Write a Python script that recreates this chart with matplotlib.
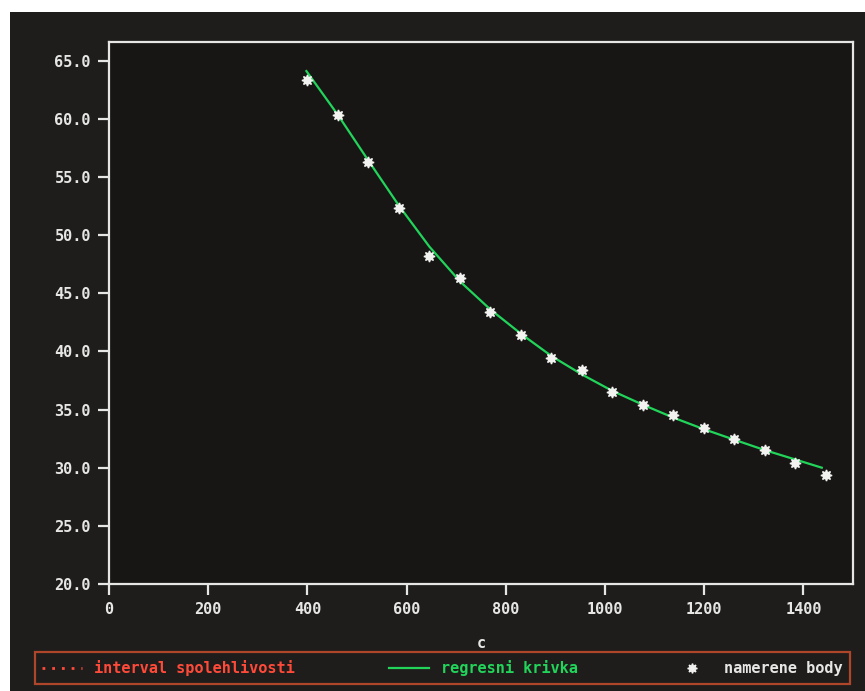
import matplotlib.pyplot as plt
from matplotlib.lines import Line2D
from matplotlib.patches import Rectangle

# namerene body (measured points)
c_meas = [400, 462, 523, 585, 646, 708, 769, 831, 892, 954,
          1015, 1077, 1138, 1200, 1261, 1323, 1384, 1445]
y_meas = [63.3, 60.3, 56.3, 52.3, 48.2, 46.3, 43.4, 41.4, 39.4, 38.4,
          36.5, 35.4, 34.5, 33.4, 32.5, 31.5, 30.4, 29.4]

# regresni krivka
c_reg = [398, 462, 523, 585, 646, 708, 769, 831, 892, 954,
         1015, 1077, 1138, 1200, 1261, 1323, 1384, 1437]
y_reg = [64.1, 60.3, 56.4, 52.5, 49.0, 46.0, 43.6, 41.5, 39.6, 38.0,
         36.6, 35.4, 34.3, 33.3, 32.4, 31.5, 30.7, 30.0]

x_ticks = [0, 200, 400, 600, 800, 1000, 1200, 1400]
y_ticks = [20, 25, 30, 35, 40, 45, 50, 55, 60, 65]
legend_labels = ['interval spolehlivosti', 'regresni krivka', 'namerene body']

fg = '#e6e6e4'
red = '#ff4a3a'
green = '#22d45a'
bg = '#1e1d1b'

plt.rcParams['font.family'] = 'DejaVu Sans Mono'
plt.rcParams['font.weight'] = 'bold'

fig = plt.figure(figsize=(8.65, 6.91), dpi=100, facecolor='white')
# dark screen area (photo has a white margin top and left)
fig.add_artist(Rectangle((10 / 865, 0), 1, (691 - 12) / 691,
                         transform=fig.transFigure, facecolor=bg,
                         edgecolor='none', zorder=0))

ax = fig.add_axes([109 / 865, 107 / 691, 744 / 865, 542 / 691])
ax.set_facecolor('#171615')

ax.plot(c_reg, y_reg, color=green, lw=1.6, zorder=2)
ax.plot(c_meas, y_meas, linestyle='none', marker=(8, 1, 0), ms=8,
        color='#f2f2f0', zorder=3)

ax.set_xlim(0, 1500)
ax.set_ylim(20, 66.6)
ax.set_xticks(x_ticks)
ax.set_yticks(y_ticks)
ax.set_xticklabels([str(v) for v in x_ticks])
ax.set_yticklabels(['%.1f' % v for v in y_ticks])
ax.tick_params(colors=fg, labelsize=11, length=8, width=1.6, pad=5)
for s in ax.spines.values():
    s.set_color(fg)
    s.set_linewidth(1.6)

ax.set_xlabel('c', color=fg, fontsize=11, fontweight='bold', labelpad=14)

handles = [Line2D([], [], color=red, lw=2, linestyle=(0, (1, 2.5))),
           Line2D([], [], color=green, lw=1.6),
           Line2D([], [], linestyle='none', marker=(8, 1, 0), ms=7,
                  color='#f2f2f0')]
leg = fig.legend(handles, legend_labels, loc='center', ncol=3,
                 bbox_to_anchor=(27 / 865, 5 / 691, 831 / 865, 36 / 691),
                 mode='expand', fontsize=11, handlelength=2.6,
                 handletextpad=0.8, frameon=True, fancybox=False,
                 borderpad=0.5)
leg.get_frame().set_facecolor('none')
leg.get_frame().set_edgecolor('#d4502e')
leg.get_frame().set_linewidth(1.6)
for t, col in zip(leg.get_texts(), [red, green, fg]):
    t.set_color(col)

fig.savefig('out.png', dpi=100, facecolor=fig.get_facecolor())
